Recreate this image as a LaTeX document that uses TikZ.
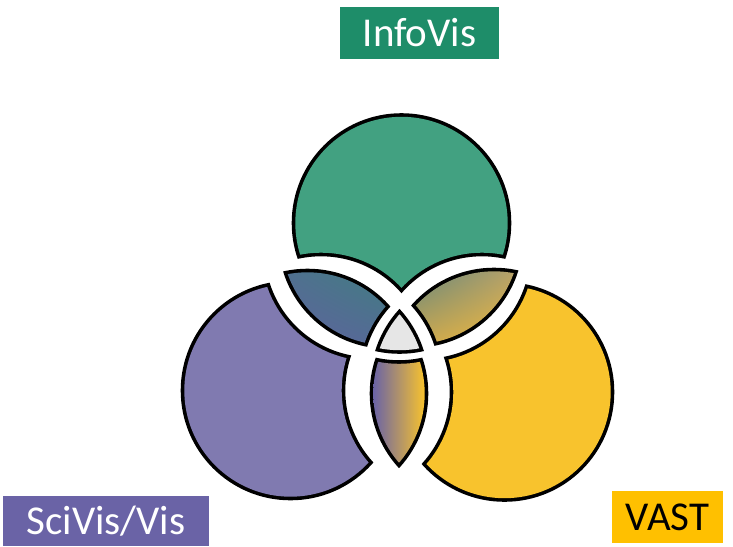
\documentclass[tikz,border=0pt]{standalone}
\usepackage{fontspec}
\setmainfont{Carlito}
\usetikzlibrary{calc, shadings}

\definecolor{verdeinfo}{RGB}{30,141,105}
\definecolor{moradosci}{RGB}{106,99,166}
\definecolor{amarillovast}{RGB}{255,192,0}
\definecolor{verde}{RGB}{66,161,129}
\definecolor{morado}{RGB}{128,122,176}
\definecolor{amarillo}{RGB}{248,195,45}
\definecolor{gris}{RGB}{230,230,230}
% tonos de las lentes
\definecolor{gpA}{RGB}{80,112,144}
\definecolor{gpB}{RGB}{64,126,128}
\definecolor{gpC}{RGB}{96,98,158}
\definecolor{gpD}{RGB}{84,106,150}
\definecolor{gyA}{RGB}{100,135,125}
\definecolor{gyB}{RGB}{185,162,105}
\definecolor{gyC}{RGB}{205,168,80}
\definecolor{gyD}{RGB}{246,188,55}

% radio de los circulos y medio grosor del borde
\def\rad{108}
\def\borde{1.8}

% recortes: dentro / fuera de un circulo (margen \pad)
% (el rectangulo va en sentido horario, el circulo antihorario)
\newcommand\dentro[1]{\clip (#1) circle ({\rad+(\pad)});}
\newcommand\fuera[1]{\clip (-260,-260) -- (-260,260) -- (260,260) -- (260,-260) -- cycle (#1) circle ({\rad-(\pad)});}

% una pieza: posicion, recortes, relleno
\newcommand\pieza[3]{%
  \begin{scope}[shift={#1}]
    \coordinate (cg) at (0,93);
    \coordinate (cp) at (-80.5,-46.5);
    \coordinate (cy) at (80.5,-46.5);
    \begin{scope}
      \def\pad{\borde}#2
      \fill[black] (-230,-230) rectangle (230,230);
    \end{scope}
    \begin{scope}
      \def\pad{-\borde}#2
      #3
    \end{scope}
  \end{scope}}

\tikzset{
  etiqueta/.style={inner sep=0pt, anchor=center, font=\fontsize{41}{48}\selectfont}
}

\begin{document}
\begin{tikzpicture}[x=1pt,y=1pt]
    \useasboundingbox (0,-546) rectangle (733,0);
    % Circulos exteriores
    \pieza{(401.5,-316)}{\dentro{cg}\fuera{cp}\fuera{cy}}{\fill[verde] (-230,-230) rectangle (230,230);}
    \pieza{(371,-344)}{\dentro{cp}\fuera{cg}\fuera{cy}}{\fill[morado] (-230,-230) rectangle (230,230);}
    \pieza{(424,-345.5)}{\dentro{cy}\fuera{cg}\fuera{cp}}{\fill[amarillo] (-230,-230) rectangle (230,230);}
    % Lentes (dos circulos)
    \pieza{(388,-332)}{\dentro{cg}\dentro{cp}\fuera{cy}}{%
        \shade[upper left=gpA, upper right=gpB, lower left=gpC, lower right=gpD] (-106,-16) rectangle (2,62);}
    \pieza{(413.5,-331)}{\dentro{cg}\dentro{cy}\fuera{cp}}{%
        \shade[upper left=gyA, upper right=gyB, lower left=gyC, lower right=gyD] (-2,-16) rectangle (106,62);}
    \pieza{(399,-347)}{\dentro{cp}\dentro{cy}\fuera{cg}}{%
        \shade[left color=moradosci, right color=amarillo] (-26,-122) rectangle (26,-8);}
    % Centro (tres circulos)
    \pieza{(399.5,-337)}{\dentro{cg}\dentro{cp}\dentro{cy}}{\fill[gris] (-230,-230) rectangle (230,230);}
    % Etiquetas
    \node[etiqueta, fill=verdeinfo, text=white, minimum width=159pt, minimum height=52pt] (infovis) at (419.5,-33) {InfoVis};
    \node[etiqueta, fill=moradosci, text=white, minimum width=206pt, minimum height=50pt] (scivis) at (106,-521) {SciVis/Vis};
    \node[etiqueta, fill=amarillovast, text=black, minimum width=111pt, minimum height=52pt] (vast) at (667.5,-517) {VAST};
\end{tikzpicture}
\end{document}
